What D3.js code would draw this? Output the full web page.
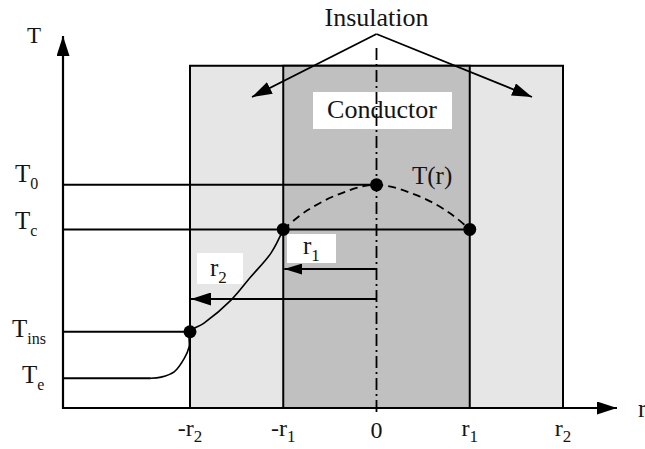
<!DOCTYPE html>
<html>
<head>
<meta charset="utf-8">
<script src="https://cdn.jsdelivr.net/npm/d3@7/dist/d3.min.js"></script>
<style>
  html, body { margin: 0; padding: 0; background: #fff; }
  svg { display: block; }
</style>
</head>
<body>
<svg id="chart" width="645" height="449"></svg>
<script>
// Radial positions (r1 = 1, r2 = 2) and their axis labels
const radialValues = [-2, -1, 0, 1, 2];
const radialLabels = [["-r", "2"], ["-r", "1"], ["0", ""], ["r", "1"], ["r", "2"]];

// Characteristic temperatures (relative units) and their labels
const tempNames  = ["T0", "Tc", "Tins", "Te"];
const tempLabels = [["T", "0"], ["T", "c"], ["T", "ins"], ["T", "e"]];
const tempValues = [60, 48, 20.5, 8];

// Temperature profile inside the conductor, T(r), |r| <= r1
const conductorProfile = [
  [-1, 48], [-0.75, 53], [-0.4, 57.5], [0, 60], [0.45, 57], [0.78, 52.5], [1, 48]
];
// Temperature profile through the insulation and into the surroundings
const outerProfile = [
  [-2.42, 8], [-2.31, 8.3], [-2.17, 9.7], [-2.06, 13.4], [-2.01, 16.4], [-2, 20.5],
  [-1.85, 22.8], [-1.56, 29], [-1.35, 35.2], [-1.13, 41.7], [-1, 48]
];

const FONT = "'Liberation Serif', 'Times New Roman', serif";
const INK = "#141414";

const svg = d3.select("#chart");
const axisX0 = 63, axisX1 = 617, axisY0 = 408, axisY1 = 36;

const x = d3.scaleLinear().domain([-2, 2]).range([190, 563]);
const y = d3.scaleLinear().domain([0, 100]).range([axisY0, axisY1]);

const boxTop = 92;   // top of the cable cross-section, in T units

function text(px, py, size) {
  return svg.append("text")
    .attr("x", px).attr("y", py)
    .attr("font-size", size)
    .style("font-family", FONT)
    .attr("fill", INK);
}

// arrow heads
const defs = svg.append("defs");
function marker(id, len, half) {
  defs.append("marker")
    .attr("id", id)
    .attr("markerUnits", "userSpaceOnUse")
    .attr("viewBox", `0 ${-half} ${len} ${half * 2}`)
    .attr("markerWidth", len).attr("markerHeight", half * 2)
    .attr("refX", len).attr("refY", 0)
    .attr("orient", "auto")
    .append("path")
    .attr("d", `M0,${-half}L${len},0L0,${half}Z`)
    .attr("fill", "#000");
}
marker("head", 20, 6.5);
marker("headSmall", 18, 5.5);

// insulation (outer) and conductor (inner) regions
svg.append("rect")
  .attr("x", x(-2)).attr("y", y(boxTop))
  .attr("width", x(2) - x(-2)).attr("height", y(0) - y(boxTop))
  .attr("fill", "#e6e6e6").attr("stroke", "#000").attr("stroke-width", 2);
svg.append("rect")
  .attr("x", x(-1)).attr("y", y(boxTop))
  .attr("width", x(1) - x(-1)).attr("height", y(0) - y(boxTop))
  .attr("fill", "#c0c0c0").attr("stroke", "#000").attr("stroke-width", 2);

// "Conductor" label box
svg.append("rect")
  .attr("x", 313).attr("y", 92).attr("width", 139).attr("height", 37)
  .attr("fill", "#fff");

// centre line (dash-dot)
svg.append("line")
  .attr("x1", x(0)).attr("x2", x(0))
  .attr("y1", 48).attr("y2", axisY0 + 7)
  .attr("stroke", "#000").attr("stroke-width", 1.8)
  .attr("stroke-dasharray", "12,4,2,4");

text(382, 118, 26).attr("text-anchor", "middle").text("Conductor");

// horizontal level lines from the T axis
const levelEnds = { T0: 0, Tc: 1, Tins: -2, Te: outerProfile[0][0] };
tempNames.forEach((name, i) => {
  svg.append("line")
    .attr("x1", axisX0).attr("x2", x(levelEnds[name]))
    .attr("y1", y(tempValues[i])).attr("y2", y(tempValues[i]))
    .attr("stroke", "#000").attr("stroke-width", 2);
});

// radius arrows r1 and r2 with their label boxes
svg.append("rect").attr("x", 287).attr("y", 234).attr("width", 49).attr("height", 29).attr("fill", "#fff");
svg.append("rect").attr("x", 197).attr("y", 253).attr("width", 46).attr("height", 31).attr("fill", "#fff");

svg.append("line")
  .attr("x1", x(0)).attr("x2", x(-1) + 1)
  .attr("y1", 269).attr("y2", 269)
  .attr("stroke", "#000").attr("stroke-width", 2)
  .attr("marker-end", "url(#headSmall)");
svg.append("line")
  .attr("x1", x(0)).attr("x2", x(-2) + 1)
  .attr("y1", 299).attr("y2", 299)
  .attr("stroke", "#000").attr("stroke-width", 2)
  .attr("marker-end", "url(#head)");

function subLabel(sel, base, sub, subSize, shift) {
  sel.append("tspan").text(base);
  if (sub) sel.append("tspan").attr("font-size", subSize).attr("dy", shift).text(sub);
  return sel;
}

subLabel(text(303, 254, 25), "r", "1", 17, 7);
subLabel(text(210, 276, 25), "r", "2", 17, 7);

// temperature profiles
const line = d3.line().x(d => x(d[0])).y(d => y(d[1])).curve(d3.curveCatmullRom.alpha(0.5));
svg.append("path")
  .datum(conductorProfile)
  .attr("d", line)
  .attr("fill", "none").attr("stroke", "#000").attr("stroke-width", 1.8)
  .attr("stroke-dasharray", "8,5");
svg.append("path")
  .datum(outerProfile)
  .attr("d", line)
  .attr("fill", "none").attr("stroke", "#000").attr("stroke-width", 1.6);

text(412, 184, 25).text("T(r)");

// marked points on the profile
const points = [[0, 60], [-1, 48], [1, 48], [-2, 20.5]];
svg.selectAll("circle.pt").data(points).join("circle")
  .attr("class", "pt")
  .attr("cx", d => x(d[0])).attr("cy", d => y(d[1]))
  .attr("r", 6.5).attr("fill", "#000");

// axes
svg.append("line")
  .attr("x1", axisX0).attr("x2", axisX0)
  .attr("y1", axisY0 + 1).attr("y2", axisY1)
  .attr("stroke", "#000").attr("stroke-width", 2.2)
  .attr("marker-end", "url(#head)");
svg.append("line")
  .attr("x1", axisX0 - 1).attr("x2", axisX1)
  .attr("y1", axisY0).attr("y2", axisY0)
  .attr("stroke", "#000").attr("stroke-width", 2.2)
  .attr("marker-end", "url(#head)");

text(27, 43, 23).text("T");
text(638, 417, 25).text("r");

// temperature labels
const tempLabelPos = [[15, -3], [15, 0], [12, 5], [22, 5]];
tempLabels.forEach((lab, i) => {
  subLabel(text(tempLabelPos[i][0], y(tempValues[i]) + tempLabelPos[i][1], 25),
    lab[0], lab[1], 16, 7);
});

// radial labels
radialLabels.forEach((lab, i) => {
  subLabel(text(x(radialValues[i]), lab[1] ? 436 : 438, 24).attr("text-anchor", "middle"),
    lab[0], lab[1], 17, 6);
});

// "Insulation" callout
text(x(0), 26, 26).attr("text-anchor", "middle").text("Insulation");
const apex = [x(0), 34];
[[252, 97], [532, 97]].forEach(tip => {
  svg.append("line")
    .attr("x1", apex[0]).attr("y1", apex[1])
    .attr("x2", tip[0]).attr("y2", tip[1])
    .attr("stroke", "#000").attr("stroke-width", 1.8)
    .attr("marker-end", "url(#head)");
});
</script>
</body>
</html>
